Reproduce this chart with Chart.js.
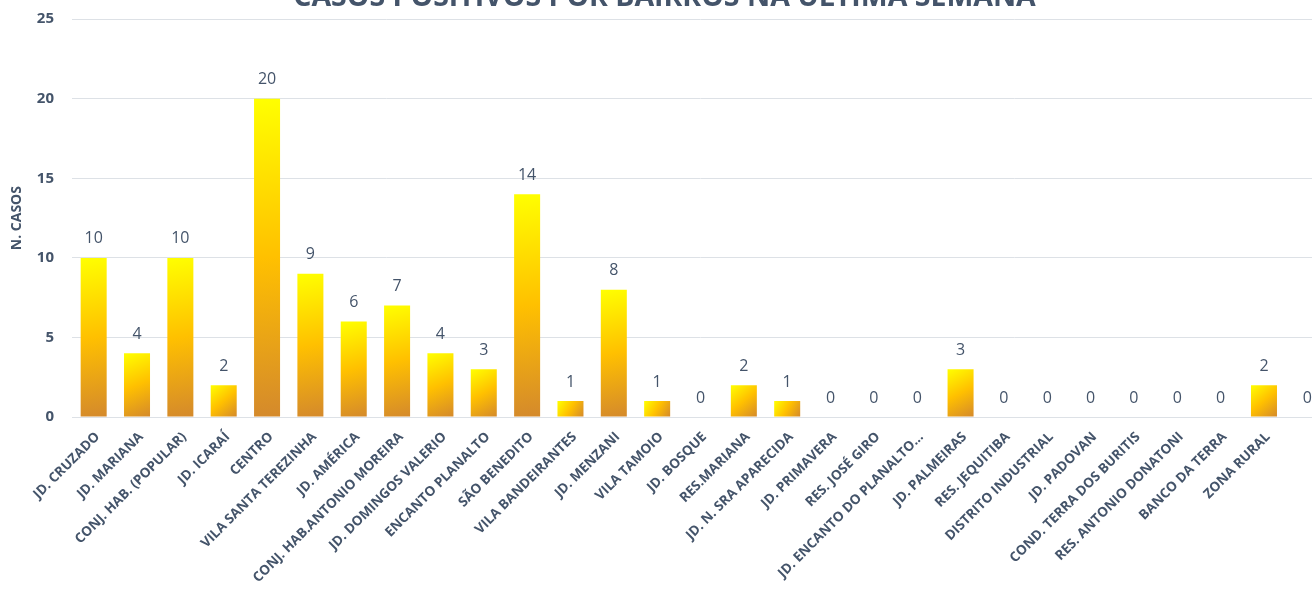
<!DOCTYPE html>
<html>
<head>
<meta charset="utf-8">
<script src="https://cdn.jsdelivr.net/npm/chart.js@4"></script>
<style>
  html, body { margin: 0; padding: 0; background: #ffffff; overflow: hidden; }
  #wrap { position: relative; width: 1312px; height: 593px; overflow: hidden; background: #fff; }
  #c { position: absolute; left: 0; top: -30px; }
</style>
</head>
<body>
<div id="wrap"><canvas id="c" width="1340" height="623"></canvas></div>
<script>
const chartTitle = 'CASOS POSITIVOS POR BAIRROS NA ÚLTIMA SEMANA';
const yAxisTitle = 'N. CASOS';
const categories = [
  'JD. CRUZADO', 'JD. MARIANA', 'CONJ. HAB. (POPULAR)', 'JD. ICARAÍ', 'CENTRO',
  'VILA SANTA TEREZINHA', 'JD. AMÉRICA', 'CONJ. HAB.ANTONIO MOREIRA', 'JD. DOMINGOS VALERIO',
  'ENCANTO PLANALTO', 'SÃO BENEDITO', 'VILA BANDEIRANTES', 'JD. MENZANI', 'VILA TAMOIO',
  'JD. BOSQUE', 'RES.MARIANA', 'JD. N. SRA APARECIDA', 'JD. PRIMAVERA', 'RES. JOSÉ GIRO',
  'JD. ENCANTO DO PLANALTO...', 'JD. PALMEIRAS', 'RES. JEQUITIBA', 'DISTRITO INDUSTRIAL',
  'JD. PADOVAN', 'COND. TERRA DOS BURITIS', 'RES. ANTONIO DONATONI', 'BANCO DA TERRA',
  'ZONA RURAL', ''
];
const casos = [10, 4, 10, 2, 20, 9, 6, 7, 4, 3, 14, 1, 8, 1, 0, 2, 1, 0, 0, 0, 3, 0, 0, 0, 0, 0, 0, 2, 0];
const yTicks = [0, 5, 10, 15, 20, 25];

const textColor = '#44546A';
const gridColor = '#DDE1E6';
Chart.defaults.font.family = "'Open Sans', sans-serif";
Chart.defaults.color = textColor;

const BAR_PCT = 0.6;

function barGradient(context) {
  const chart = context.chart;
  const xs = chart.scales.x, ys = chart.scales.y;
  if (context.type !== 'data' || !xs || !ys || !xs.width) return '#FFC000';
  const v = context.raw;
  const top = ys.getPixelForValue(v);
  const base = ys.getPixelForValue(0);
  const cx = xs.getPixelForValue(context.dataIndex);
  const w = xs.width / categories.length * BAR_PCT;
  if (base - top < 1) return '#FFC000';
  const g = chart.ctx.createLinearGradient(cx - w / 2, top, cx + w / 2, base);
  g.addColorStop(0, '#FFFF00');
  g.addColorStop(0.5, '#FFC000');
  g.addColorStop(1, '#D4892C');
  return g;
}

const valueLabels = {
  id: 'valueLabels',
  afterDatasetsDraw(chart) {
    const ctx = chart.ctx;
    const meta = chart.getDatasetMeta(0);
    ctx.save();
    ctx.font = "16px 'Open Sans', sans-serif";
    ctx.fillStyle = textColor;
    ctx.textAlign = 'center';
    ctx.textBaseline = 'bottom';
    meta.data.forEach((el, i) => {
      ctx.fillText(String(casos[i]), el.x, el.y - 11);
    });
    ctx.restore();
  }
};

new Chart(document.getElementById('c'), {
  type: 'bar',
  data: {
    labels: categories,
    datasets: [{
      data: casos,
      backgroundColor: barGradient,
      borderWidth: 0,
      categoryPercentage: 1,
      barPercentage: BAR_PCT
    }]
  },
  options: {
    responsive: false,
    animation: false,
    devicePixelRatio: 1,
    layout: { padding: { left: 0, right: 11, top: 0, bottom: 0 } },
    plugins: {
      legend: { display: false },
      tooltip: { enabled: false },
      title: {
        display: true,
        text: chartTitle,
        color: textColor,
        font: { size: 28.5, weight: 'bold' },
        padding: { top: 11, bottom: 4 }
      }
    },
    scales: {
      x: {
        grid: { display: false, drawTicks: false },
        border: { display: true, color: gridColor, width: 1 },
        ticks: {
          autoSkip: false,
          minRotation: 45,
          maxRotation: 45,
          padding: 12,
          labelOffset: 4,
          color: textColor,
          font: { size: 13.5, weight: 'bold' }
        },
        afterFit(scale) { scale.height = 176; }
      },
      y: {
        min: 0,
        max: 25,
        afterBuildTicks(scale) { scale.ticks = yTicks.map(v => ({ value: v })); },
        grid: { color: gridColor, lineWidth: 1, drawTicks: false },
        border: { display: false },
        ticks: {
          padding: 18,
          color: textColor,
          font: { size: 15, weight: 'bold' }
        },
        title: {
          display: true,
          text: yAxisTitle,
          color: textColor,
          font: { size: 14, weight: 'bold' },
          padding: { top: 9, bottom: 0 }
        },
        afterFit(scale) { scale.width = 72; }
      }
    }
  },
  plugins: [valueLabels]
});
</script>
</body>
</html>
